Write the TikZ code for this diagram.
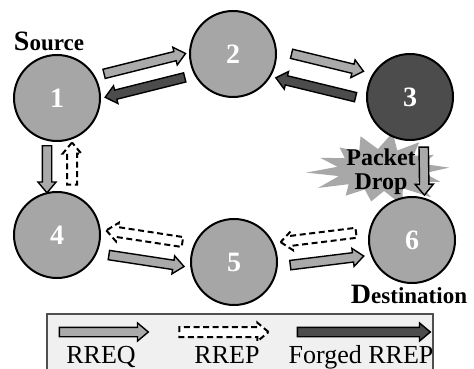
\documentclass[tikz,border=0pt]{standalone}
\usepackage{fontspec}
\setmainfont{Liberation Serif}
\usetikzlibrary{positioning,calc,shapes.arrows}

\definecolor{hostgray}{RGB}{166,166,166}
\definecolor{reqgray}{RGB}{170,170,170}
\definecolor{badgray}{RGB}{76,76,76}
\definecolor{burstgray}{RGB}{168,168,168}
\definecolor{legendfill}{RGB}{240,240,240}
\definecolor{legendline}{RGB}{80,80,80}

\begin{document}
\begin{tikzpicture}[x=0.5pt, y=0.5pt,
    host/.style={circle, draw=black, line width=1pt, fill=hostgray, minimum size=43pt, inner sep=0pt, text=white, font=\fontsize{14}{14}\selectfont\bfseries},
    fat/.style={single arrow, draw=black, line width=0.7pt, inner sep=2pt, single arrow head extend=2.2pt, single arrow tip angle=80, minimum height=#1, allow upside down},
    rreq/.style={fat=#1, fill=reqgray},
    rrep/.style={fat=#1, fill=white, line width=1pt, dash pattern=on 3pt off 1.8pt},
    forged/.style={fat=#1, fill=badgray},
    tag/.style={inner sep=0.5pt, font=\fontsize{11.5}{12}\selectfont\bfseries}]
    \path[use as bounding box, clip] (0,0) rectangle (474,-368);

    % Packet drop burst (behind everything)
    \fill[burstgray] plot[samples at={0,...,27}]
        ({381+(mod(\x,2)==0 ? 76*(0.9+0.1*sin(\x*137)) : 44)*cos(\x*360/28+4)},
         {-170+(mod(\x,2)==0 ? 38*(0.9+0.1*sin(\x*137)) : 21)*sin(\x*360/28+4)}) -- cycle;
    \node[align=center, font=\fontsize{12}{12}\selectfont\bfseries] (drop) at (381,-172) {Packet\\Drop};

    % Define hosts
    \node[host] (n1) at (57,-98) {1};
    \node[host] (n2) at (233,-54) {2};
    \node[host, fill=badgray] (n3) at (410,-97) {3};
    \node[host] (n4) at (57,-235) {4};
    \node[host] (n5) at (234,-262) {5};
    \node[host] (n6) at (412,-240) {6};

    \node[tag, above=1pt of n1, xshift=-4pt] (src) {{\fontsize{14}{14}\selectfont S}ource};
    \node[tag, below=0pt of n6, xshift=-1.5pt] (dst) {{\fontsize{14}{14}\selectfont D}estination};

    % Draw message arrows
    \path ($(n1)!6pt!90:(n2)$) -- ($(n2)!6pt!-90:(n1)$) node[rreq=42pt, midway, sloped] (a12) {};
    \path ($(n2)!5.5pt!90:(n1)$) -- ($(n1)!5.5pt!-90:(n2)$) node[forged=41pt, midway, sloped] (a21) {};
    \path ($(n2)!7pt!90:(n3)$) -- ($(n3)!7pt!-90:(n2)$) node[rreq=37pt, midway, sloped] (a23) {};
    \path ($(n3)!6.5pt!90:(n2)$) -- ($(n2)!6.5pt!-90:(n3)$) node[forged=41pt, midway, sloped] (a32) {};
    \path ($(n1)!5pt!-90:(n4)$) -- ($(n4)!5pt!90:(n1)$) node[rreq=23.5pt, midway, sloped] (a14) {};
    \path ($(n4)!7.5pt!-90:(n1)$) -- ($(n1)!7.5pt!90:(n4)$) node[rrep=21pt, midway, sloped] (a41) {};
    \path ($(n3)!6.5pt!90:(n6)$) -- ($(n6)!6.5pt!-90:(n3)$) node[rreq=24pt, midway, sloped] (a36) {};
    \path ($(n4)!6pt!-90:(n5)$) -- ($(n5)!6pt!90:(n4)$) node[rreq=38pt, midway, sloped] (a45) {};
    \path ($(n5)!6pt!-90:(n4)$) -- ($(n4)!6pt!90:(n5)$) node[rrep=38.5pt, midway, sloped] (a54) {};
    \path ($(n5)!5pt!-90:(n6)$) -- ($(n6)!5pt!90:(n5)$) node[rreq=37pt, midway, sloped] (a56) {};
    \path ($(n6)!7pt!-90:(n5)$) -- ($(n5)!7pt!90:(n6)$) node[rrep=38pt, midway, sloped] (a65) {};

    % Legend
    \draw[draw=legendline, line width=0.8pt, fill=legendfill] (47,-314) rectangle (433,-380);
    \node[rreq=44.5pt] (lreq) at (101,-332) {};
    \node[rrep=44.5pt] (lrep) at (221,-332) {};
    \node[forged=66.5pt] (lforged) at (361,-332) {};
    \node[below=4pt of lreq, inner sep=0pt, font=\fontsize{13}{13}\selectfont] {RREQ};
    \node[below=4pt of lrep, xshift=3pt, inner sep=0pt, font=\fontsize{13}{13}\selectfont] {RREP};
    \node[below=4pt of lforged, inner sep=0pt, font=\fontsize{13}{13}\selectfont] {Forged RREP};
\end{tikzpicture}
\end{document}
